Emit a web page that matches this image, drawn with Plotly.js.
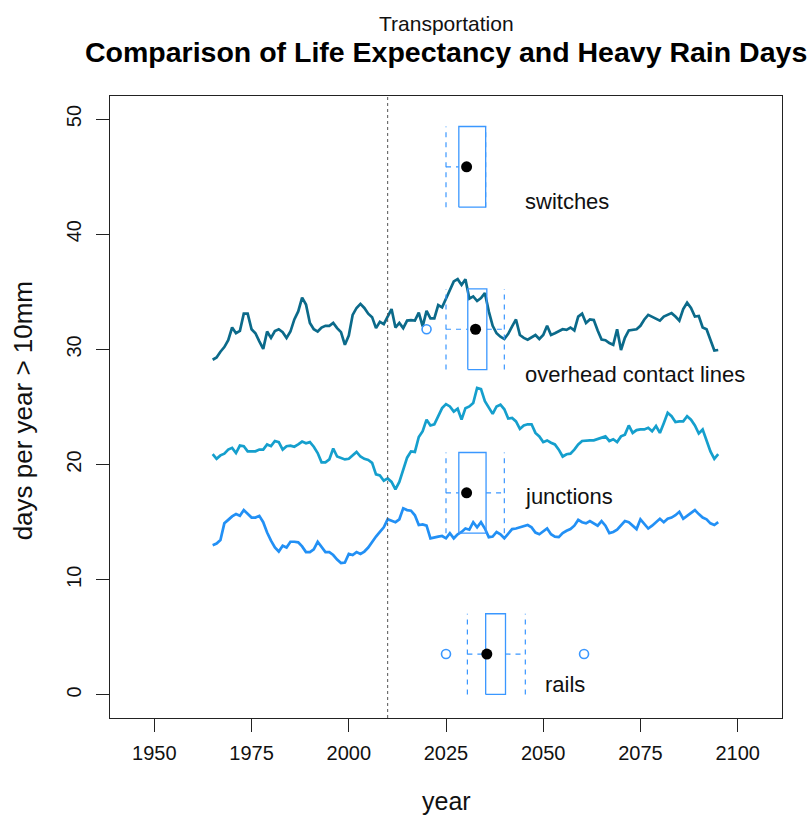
<!DOCTYPE html>
<html>
<head>
<meta charset="utf-8">
<script src="https://cdn.plot.ly/plotly-3.0.1.min.js"></script>
<style>html,body{margin:0;padding:0;background:#fff;}#chart{width:810px;height:816px;}</style>
</head>
<body>
<div id="chart"></div>
<script>
// ---------- data ----------
const years = [1965,1966,1967,1968,1969,1970,1971,1972,1973,1974,1975,1976,1977,1978,1979,1980,1981,1982,1983,1984,1985,1986,1987,1988,1989,1990,1991,1992,1993,1994,1995,1996,1997,1998,1999,2000,2001,2002,2003,2004,2005,2006,2007,2008,2009,2010,2011,2012,2013,2014,2015,2016,2017,2018,2019,2020,2021,2022,2023,2024,2025,2026,2027,2028,2029,2030,2031,2032,2033,2034,2035,2036,2037,2038,2039,2040,2041,2042,2043,2044,2045,2046,2047,2048,2049,2050,2051,2052,2053,2054,2055,2056,2057,2058,2059,2060,2061,2062,2063,2064,2065,2066,2067,2068,2069,2070,2071,2072,2073,2074,2075,2076,2077,2078,2079,2080,2081,2082,2083,2084,2085,2086,2087,2088,2089,2090,2091,2092,2093,2094,2095];

const seriesTop = [29.1,29.3,29.8,30.2,30.8,31.9,31.4,31.6,33.1,33.1,31.75,31.4,30.7,30.05,31.55,31.0,31.6,31.75,31.5,31.0,31.55,32.6,33.3,34.5,33.9,32.3,31.75,31.55,31.9,32.05,32.05,32.3,31.85,31.5,30.4,31.2,33.0,33.6,33.95,33.6,33.1,32.8,31.85,32.4,32.2,32.85,33.5,31.9,32.3,31.85,32.5,32.55,32.5,33.2,32.0,33.35,32.7,32.7,33.85,33.65,34.4,35.15,35.9,36.1,35.6,36.1,34.4,34.6,34.2,34.45,34.9,33.3,32.05,31.4,31.1,30.9,31.35,32.0,32.6,31.25,31.0,30.85,31.05,31.25,30.9,31.25,32.05,31.25,31.4,31.6,31.75,31.7,31.9,31.65,32.85,33.1,32.3,32.6,32.55,31.65,30.85,30.8,30.55,30.4,31.75,29.95,31.0,31.65,31.7,31.75,32.05,32.6,33.0,32.85,32.7,32.5,32.85,33.0,33.15,32.85,32.5,33.5,34.05,33.6,32.85,32.9,31.9,31.75,30.85,29.9,29.95];

const seriesMid = [20.9,20.5,20.8,20.95,21.3,21.45,21.0,21.65,21.6,21.15,21.15,21.15,21.3,21.3,21.75,21.6,22.05,21.95,21.3,21.6,21.65,21.55,21.75,22.0,21.85,21.95,21.55,21.0,20.2,20.2,20.45,21.4,20.7,20.6,20.45,20.5,20.8,21.1,20.7,20.5,20.4,20.15,19.15,19.05,18.6,18.8,18.5,17.85,18.5,19.65,20.6,21.15,21.1,22.4,22.9,23.9,23.4,23.5,24.2,24.9,25.25,25.05,24.6,24.85,23.9,24.9,25.05,25.35,26.65,26.55,25.5,24.9,24.4,25.05,25.2,24.8,24.0,24.05,23.75,23.1,23.4,23.5,23.5,22.75,22.45,21.95,22.1,21.9,21.75,21.3,20.7,20.9,20.95,21.3,21.75,22.05,22.1,22.1,22.1,22.2,22.3,22.45,22.05,22.2,21.95,22.45,22.6,23.4,22.75,23.0,23.05,23.05,23.2,22.9,23.35,22.75,23.6,24.5,24.2,23.7,23.75,23.75,24.2,23.9,23.4,22.7,23.05,22.05,21.15,20.5,20.9];

const seriesLow = [13.0,13.15,13.45,14.9,15.2,15.5,15.7,15.55,16.05,15.7,15.4,15.4,15.55,15.0,14.1,13.4,12.8,12.45,12.95,12.8,13.3,13.3,13.25,12.9,12.4,12.4,12.65,13.3,12.8,12.4,12.4,12.15,11.75,11.45,11.5,12.25,12.15,12.4,12.25,12.45,12.8,13.3,13.75,14.15,14.55,15.25,15.1,15.0,15.25,16.2,16.05,16.0,15.6,14.75,14.8,14.7,13.6,13.7,13.75,13.8,13.6,14.05,13.6,13.95,14.15,14.45,14.35,15.0,14.55,15.0,14.45,13.7,13.75,14.15,13.95,13.6,14.05,14.4,14.45,14.55,14.6,14.75,14.55,14.1,13.95,14.2,14.45,13.95,13.75,13.7,14.05,14.25,14.4,14.7,15.2,15.0,14.9,15.1,14.9,14.7,15.1,14.7,14.05,14.15,14.35,14.7,15.1,15.0,14.7,14.4,15.25,14.8,14.45,14.7,15.0,15.3,15.0,15.3,15.4,15.6,15.9,15.3,15.55,15.8,16.05,15.7,15.4,15.25,14.9,14.75,15.0];

// boxplot summaries (years), one per component
const boxLabels   = ["rails", "junctions", "overhead contact lines", "switches"];
const boxPos      = [3.55, 17.55, 31.75, 45.85];
const boxWhiskLo  = [2030.5, 2025.0, 2025.0, 2025.0];
const boxQ1       = [2035.2, 2028.3, 2030.6, 2028.3];
const boxMedian   = [2035.5, 2030.3, 2032.6, 2030.3];
const boxQ3       = [2040.3, 2035.3, 2035.5, 2035.2];
const boxWhiskHi  = [2045.4, 2040.0, 2040.0, 2035.2];
const boxOutliers = [[2025.0, 2060.5], [], [2020.0], []];
const labelX      = [2049.9, 2044.8, 2044.8, 2044.7];
const labelY      = [0.9, 17.25, 27.8, 42.85];

const xTicks = [1950, 1975, 2000, 2025, 2050, 2075, 2100];
const yTicks = [0, 10, 20, 30, 40, 50];
const refYear = 2010;

// ---------- styles ----------
const FONT = "Liberation Sans, Arial, Helvetica, sans-serif";
const colTop = "#0b6a8a", colMid = "#159fcd", colLow = "#2290f5", colBox = "#3a97ff";
const boxH = 7.0;

const traces = [];
[[seriesTop, colTop], [seriesMid, colMid], [seriesLow, colLow]].forEach(([s, c]) => {
  traces.push({x: years, y: s, type: "scatter", mode: "lines",
    line: {color: c, width: 2.7}, hoverinfo: "skip", showlegend: false});
});

for (let i = 0; i < boxLabels.length; i++) {
  const p = boxPos[i], lo = p - boxH / 2, hi = p + boxH / 2;
  traces.push({x: [boxWhiskLo[i], boxQ1[i], null, boxQ3[i], boxWhiskHi[i]],
    y: [p, p, null, p, p], type: "scatter", mode: "lines",
    line: {color: colBox, width: 1.2, dash: "5px,5px"}, showlegend: false, hoverinfo: "skip"});
  traces.push({x: [boxWhiskLo[i], boxWhiskLo[i], null, boxWhiskHi[i], boxWhiskHi[i]],
    y: [lo, hi, null, lo, hi], type: "scatter", mode: "lines",
    line: {color: colBox, width: 1.2, dash: "5px,5px"}, showlegend: false, hoverinfo: "skip"});
  traces.push({x: [boxQ1[i], boxQ3[i], boxQ3[i], boxQ1[i], boxQ1[i]],
    y: [lo, lo, hi, hi, lo], type: "scatter", mode: "lines",
    line: {color: colBox, width: 1.3}, showlegend: false, hoverinfo: "skip"});
  if (boxOutliers[i].length) {
    traces.push({x: boxOutliers[i], y: boxOutliers[i].map(() => p), type: "scatter", mode: "markers",
      marker: {symbol: "circle-open", size: 9, color: colBox, line: {width: 1.6}},
      showlegend: false, hoverinfo: "skip"});
  }
  traces.push({x: [boxMedian[i]], y: [p], type: "scatter", mode: "markers",
    marker: {symbol: "circle", size: 11, color: "#000"}, showlegend: false, hoverinfo: "skip"});
}

const annotations = boxLabels.map((t, i) => ({
  x: labelX[i], y: labelY[i], xref: "x", yref: "y", text: t, showarrow: false,
  xanchor: "left", yanchor: "middle", font: {family: FONT, size: 22, color: "#111"}
}));
annotations.push({x: 0.5, y: 1.116, xref: "paper", yref: "paper", text: "Transportation",
  showarrow: false, xanchor: "center", yanchor: "middle", font: {family: FONT, size: 21, color: "#111"}});
annotations.push({x: 0.5, y: 1.071, xref: "paper", yref: "paper", text: "<b>Comparison of Life Expectancy and Heavy Rain Days</b>",
  showarrow: false, xanchor: "center", yanchor: "middle", font: {family: FONT, size: 28.5, color: "#000"}});
annotations.push({x: 0.5, y: -0.133, xref: "paper", yref: "paper", text: "year",
  showarrow: false, xanchor: "center", yanchor: "middle", font: {family: FONT, size: 25, color: "#111"}});
annotations.push({x: -0.13, y: 0.494, xref: "paper", yref: "paper", text: "days per year &gt; 10mm", textangle: -90,
  showarrow: false, xanchor: "center", yanchor: "middle", font: {family: FONT, size: 26, color: "#111"}});

const layout = {
  width: 810, height: 816,
  margin: {l: 110, r: 28, t: 96, b: 98},
  paper_bgcolor: "#fff", plot_bgcolor: "#fff",
  showlegend: false,
  font: {family: FONT, color: "#111"},
  xaxis: {range: [1938.6, 2111.4], tickvals: xTicks, ticktext: xTicks.map(String),
    ticks: "outside", ticklen: 13, tickwidth: 1, tickcolor: "#222",
    showline: true, mirror: true, linecolor: "#222", linewidth: 1.2,
    showgrid: false, zeroline: false, tickfont: {family: FONT, size: 20, color: "#111"},
    ticklabelstandoff: 4},
  yaxis: {range: [-2, 52], tickvals: yTicks, ticktext: yTicks.map(String),
    ticks: "outside", ticklen: 13, tickwidth: 1, tickcolor: "#222", tickangle: -90,
    showline: true, mirror: true, linecolor: "#222", linewidth: 1.2,
    showgrid: false, zeroline: false, tickfont: {family: FONT, size: 20, color: "#111"},
    ticklabelstandoff: 7},
  shapes: [{type: "line", xref: "x", yref: "paper", x0: refYear, x1: refYear, y0: 0, y1: 1,
    line: {color: "#555", width: 1, dash: "dot"}}],
  annotations: annotations
};

Plotly.newPlot("chart", traces, layout, {staticPlot: true, displayModeBar: false});
</script>
</body>
</html>
